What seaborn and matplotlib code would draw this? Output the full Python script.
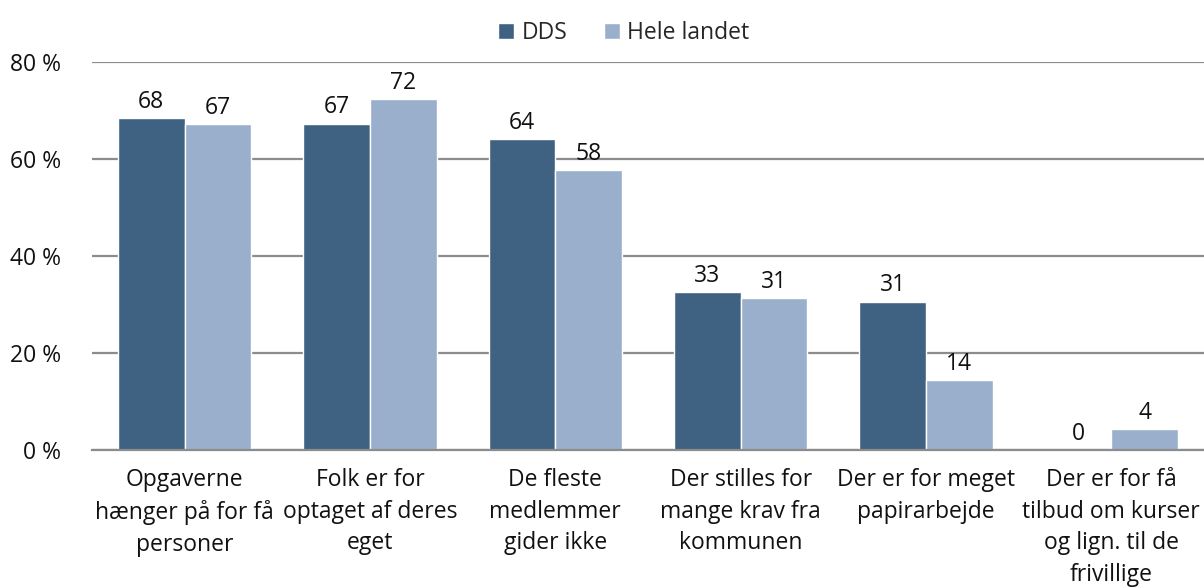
import matplotlib
matplotlib.use("Agg")
import matplotlib.pyplot as plt
import seaborn as sns
import pandas as pd

categories = [
    "Opgaverne\nhænger på for få\npersoner",
    "Folk er for\noptaget af deres\neget",
    "De fleste\nmedlemmer\ngider ikke",
    "Der stilles for\nmange krav fra\nkommunen",
    "Der er for meget\npapirarbejde",
    "Der er for få\ntilbud om kurser\nog lign. til de\nfrivillige",
]
dds = [68.4, 67.3, 64.1, 32.6, 30.6, 0.0]
hele_landet = [67.2, 72.4, 57.7, 31.3, 14.4, 4.3]
series_names = ["DDS", "Hele landet"]
yticks = [0, 20, 40, 60, 80]
ytick_labels = ["0 %", "20 %", "40 %", "60 %", "80 %"]

df = pd.DataFrame({
    "Kategori": categories * 2,
    "Serie": [series_names[0]] * len(categories) + [series_names[1]] * len(categories),
    "Værdi": dds + hele_landet,
})

sns.set_theme(style="white")
plt.rcParams["font.family"] = ["Open Sans", "DejaVu Sans"]

fig = plt.figure(figsize=(12.04, 5.88), dpi=100)
ax = fig.add_axes([92 / 1204, 1 - 450 / 588, 1 - 92 / 1204, (450 - 62) / 588])

palette = {"DDS": "#3F6283", "Hele landet": "#9AAFCB"}
sns.barplot(data=df, x="Kategori", y="Værdi", hue="Serie", palette=palette,
            width=0.72, saturation=1, ax=ax, legend=True)

for cont in ax.containers:
    ax.bar_label(cont, labels=[f"{v:.0f}" for v in cont.datavalues],
                 padding=3, fontsize=16.5, color="#111111")

ax.set_ylim(0, 80)
ax.set_yticks(yticks)
ax.set_yticklabels(ytick_labels, fontsize=16.5, color="#111111")
ax.yaxis.grid(True, color="#8C8C8C", linewidth=1.6)
ax.set_axisbelow(True)
ax.tick_params(axis="both", length=0)
ax.tick_params(axis="y", pad=22)
ax.set_xticks(range(len(categories)))
ax.set_xticklabels(categories, fontsize=16.5, color="#111111", linespacing=1.42)
ax.tick_params(axis="x", pad=13)
ax.set_xlabel("")
ax.set_ylabel("")
for s in ["top", "right", "left"]:
    ax.spines[s].set_visible(False)
ax.spines["bottom"].set_color("#8C8C8C")
ax.spines["bottom"].set_linewidth(1.6)
ax.set_xlim(-0.5, len(categories) - 0.5)

leg = ax.legend(loc="upper center", bbox_to_anchor=(0.5 - 0.022, 1.0 + 62 / 388),
                ncol=2, frameon=False, fontsize=16.5, handlelength=0.7,
                handleheight=0.7, handletextpad=0.3, columnspacing=1.6, title=None)

fig.savefig("out.png", dpi=100)
